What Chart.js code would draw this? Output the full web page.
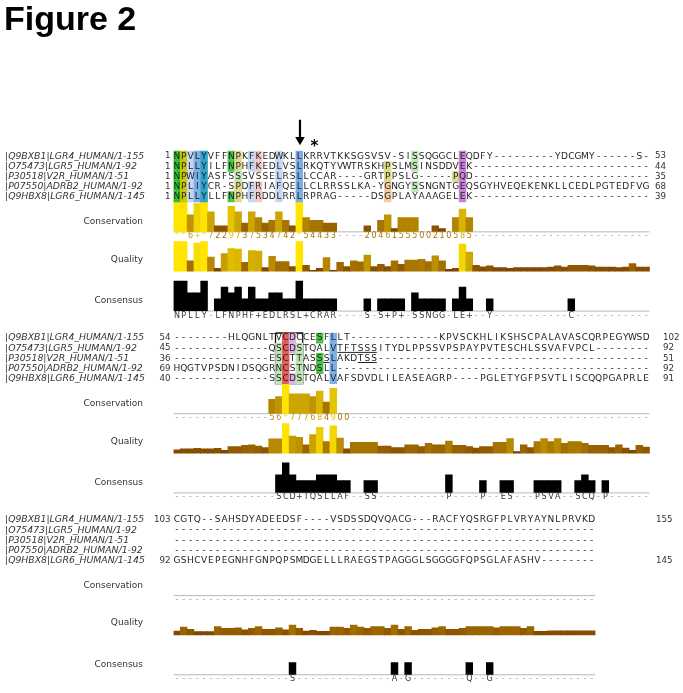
<!DOCTYPE html>
<html>
<head>
<meta charset="utf-8">
<title>Figure 2</title>
<script src="https://cdn.jsdelivr.net/npm/chart.js@4.4.1/dist/chart.umd.min.js"></script>
<style>
  html, body { margin: 0; padding: 0; background: #fff; }
  canvas { display: block; }
</style>
</head>
<body>
<canvas id="figure" width="683" height="693"></canvas>
<script>
// names, same order in every block
const seqNames = ['|Q9BXB1|LGR4_HUMAN/1-155', '|O75473|LGR5_HUMAN/1-92', '|P30518|V2R_HUMAN/1-51',
                  '|P07550|ADRB2_HUMAN/1-92', '|Q9HBX8|LGR6_HUMAN/1-145'];
const trackNames = ['Conservation', 'Quality', 'Consensus'];

// columns per wrapped block
const blockCols = [70, 70, 62];

// aligned sequences (trailing gaps are padded below)
const seqBlock1 = [
  'NPVLYVFFNPKFKEDWKLLKRRVTKKSGSVSV-SISSQGGCLEQDFY---------YDCGMY------S-',
  'NPLLYILFNPHFKEDLVSLRKQTYVWTRSKHPSLMSINSDDVEK',
  'NPWIYASFSSSVSSELRSLLCCAR----GRTPPSLG-----PQD',
  'NPLIYCR-SPDFRIAFQELLCLRRSSLKA-YGNGYSSNGNTGEQSGYHVEQEKENKLLCEDLPGTEDFVG',
  'NPLLYLLFNPHFRDDLRRLRPRAG-----DSGPLAYAAAGELEK'
];
const seqBlock2 = [
  '--------HLQGNLTVCDCCESFLLT-------------KPVSCKHLIKSHSCPALAVASCQRPEGYWSD',
  '--------------QSCDSTQALVTFTSSSITYDLPPSSVPSPAYPVTESCHLSSVAFVPCL',
  '--------------ESCTTASSSLAKDTSS',
  'HQGTVPSDNIDSQGRNCSTNDSLL',
  '--------------SSCDSTQALVAFSDVDLILEASEAGRP----PGLETYGFPSVTLISCQQPGAPRLE'
];
const seqBlock3 = [
  'CGTQ--SAHSDYADEEDSF----VSDSSDQVQACG---RACFYQSRGFPLVRYAYNLPRVKD',
  '',
  '',
  '',
  'GSHCVEPEGNHFGNPQPSMDGELLLRAEGSTPAGGGLSGGGGFQPSGLAFASHV'
];

const startNums1 = ['1', '1', '1', '1', '1'];
const endNums1 = ['53', '44', '35', '68', '39'];
const startNums2 = ['54', '45', '36', '69', '40'];
const endNums2 = ['102', '92', '51', '92', '91'];
const startNums3 = ['103', '', '', '', '92'];
const endNums3 = ['155', '', '', '', '145'];

// conservation row as printed (* = 11, + = 10)
const consBlock1 = '**6+*7229737534742*54433----2046155500210585';
const consBlock2 = '--------------56*777684900';
const consBlock3 = '';

// quality, fraction of track height
const qualBlock1 = [1.0, 1.0, 0.35, 0.95, 1.0, 0.48, 0.1, 0.6, 0.77, 0.75,
  0.3, 0.7, 0.68, 0.12, 0.5, 0.33, 0.33, 0.16, 1.0, 0.2,
  0.03, 0.1, 0.46, 0.03, 0.3, 0.16, 0.35, 0.32, 0.55, 0.16,
  0.23, 0.16, 0.35, 0.23, 0.38, 0.38, 0.4, 0.33, 0.52, 0.35,
  0.06, 0.1, 0.92, 0.65, 0.2, 0.15, 0.18, 0.12, 0.12, 0.1,
  0.12, 0.12, 0.12, 0.12, 0.12, 0.14, 0.18, 0.14, 0.2, 0.2,
  0.2, 0.18, 0.14, 0.14, 0.14, 0.12, 0.14, 0.26, 0.14, 0.14];
const qualBlock2 = [0.11, 0.14, 0.14, 0.16, 0.14, 0.14, 0.16, 0.09, 0.22, 0.22,
  0.26, 0.28, 0.24, 0.19, 0.48, 0.48, 1.0, 0.58, 0.53, 0.28,
  0.63, 0.87, 0.39, 0.92, 0.51, 0.14, 0.36, 0.36, 0.36, 0.36,
  0.24, 0.24, 0.19, 0.19, 0.28, 0.28, 0.22, 0.33, 0.28, 0.28,
  0.41, 0.26, 0.26, 0.22, 0.17, 0.22, 0.22, 0.36, 0.36, 0.49,
  0.05, 0.28, 0.19, 0.39, 0.49, 0.39, 0.49, 0.33, 0.39, 0.39,
  0.33, 0.26, 0.26, 0.26, 0.19, 0.28, 0.17, 0.09, 0.26, 0.2];
const qualBlock3 = [0.13, 0.27, 0.19, 0.11, 0.11, 0.11, 0.28, 0.22, 0.22, 0.24,
  0.17, 0.22, 0.28, 0.19, 0.19, 0.24, 0.17, 0.33, 0.22, 0.13,
  0.16, 0.12, 0.12, 0.27, 0.27, 0.22, 0.33, 0.27, 0.22, 0.28,
  0.28, 0.22, 0.33, 0.19, 0.28, 0.16, 0.19, 0.19, 0.24, 0.28,
  0.19, 0.19, 0.22, 0.28, 0.28, 0.28, 0.28, 0.24, 0.28, 0.28,
  0.28, 0.22, 0.28, 0.12, 0.12, 0.14, 0.14, 0.14, 0.14, 0.14,
  0.14, 0.14];

// consensus: letter row and number of sequences (of 5) sharing it
const consensusText1 = 'NPLLY-LFNPHF+EDLRSL+CRAR----S-S+P+-SSNGG-LE+--Y-----------C-----------';
const consensusLevel1 = [5, 5, 3, 3, 5, 0, 2, 4, 3, 4, 2, 4, 2, 2, 3, 3, 2, 2, 5, 2,
  2, 2, 2, 2, 0, 0, 0, 0, 2, 0, 2, 2, 2, 2, 0, 3, 2, 2, 2, 2,
  0, 2, 4, 2, 0, 0, 2, 0, 0, 0, 0, 0, 0, 0, 0, 0, 0, 0, 2, 0,
  0, 0, 0, 0, 0, 0, 0, 0, 0, 0];
const consensusText2 = '---------------SCD+TQSLLAF--SS----------P----P--ES---PSVA--SCQ-P------';
const consensusLevel2 = [0, 0, 0, 0, 0, 0, 0, 0, 0, 0, 0, 0, 0, 0, 0, 3, 5, 3, 2, 2,
  2, 3, 3, 3, 2, 2, 0, 0, 2, 2, 0, 0, 0, 0, 0, 0, 0, 0, 0, 0,
  3, 0, 0, 0, 0, 2, 0, 0, 2, 2, 0, 0, 0, 2, 2, 2, 2, 0, 0, 2,
  3, 2, 0, 2, 0, 0, 0, 0, 0, 0];
const consensusText3 = '-----------------S--------------A-G--------Q--G---------------';
const consensusLevel3 = [0, 0, 0, 0, 0, 0, 0, 0, 0, 0, 0, 0, 0, 0, 0, 0, 0, 2, 0, 0,
  0, 0, 0, 0, 0, 0, 0, 0, 0, 0, 0, 0, 2, 0, 2, 0, 0, 0, 0, 0,
  0, 0, 0, 2, 0, 0, 2, 0, 0, 0, 0, 0, 0, 0, 0, 0, 0, 0, 0, 0,
  0, 0];

// residue shading: [column, code per sequence]
const shadeBlock1 = [[1, 'GGGGG'], [2, 'YYYYY'], [3, 'bbbbb'], [4, 'BBBBB'], [5, 'CCCCC'],
  [9, 'gg..g'], [10, 'yyhyy'], [12, 'bb.bb'], [13, 'pp.pp'], [16, 'bbbbb'], [19, 'BBBBB'],
  [32, '.yyoo'], [36, 'hh.h.'], [42, '..y..'], [43, 'MMMMM']];
const shadeBlock2 = [[16, '.hhhh'], [17, 'RRRRR'], [18, 'dd..d'], [19, '.hhhh'], [22, 'g.gg.'], [24, 'BBBBB']];
const shadeBlock3 = [];

const shadeColours = {
  G: '#2ec02e', g: '#4cc44c', h: '#c0e6b8', Y: '#c6c800', y: '#dedc8c', o: '#f2cca4',
  B: '#7eaee6', b: '#c4d8f2', C: '#2ea4c8', p: '#f3caca', M: '#c882d8', d: '#dcb2e2', R: '#e45e5e'
};

// layout
const COLW = 6.8;
const X0 = 173.5;
const ROWH = 10.3;
const blockTop = [148, 332.8, 517.6];
const endNumX = [655, 663, 656];
const OFF = { consBase: 81.5, consNum: 86, qualBase: 122, consensusBase: 162, consensusText: 167 };
const TRACKH = { cons: 31, qual: 30, consensus: 30 };

const pad = (s, n) => s.padEnd(n, '-');
const blocks = [
  { seqs: seqBlock1, starts: startNums1, ends: endNums1, cons: consBlock1, qual: qualBlock1,
    ctext: consensusText1, clevel: consensusLevel1, shade: shadeBlock1 },
  { seqs: seqBlock2, starts: startNums2, ends: endNums2, cons: consBlock2, qual: qualBlock2,
    ctext: consensusText2, clevel: consensusLevel2, shade: shadeBlock2 },
  { seqs: seqBlock3, starts: startNums3, ends: endNums3, cons: consBlock3, qual: qualBlock3,
    ctext: consensusText3, clevel: consensusLevel3, shade: shadeBlock3 }
];
blocks.forEach((b, i) => {
  b.cols = blockCols[i];
  b.seqs = b.seqs.map(s => pad(s, b.cols));
  b.cons = pad(b.cons, b.cols);
});

function consValue(ch) {
  if (ch === '*') return 11;
  if (ch === '+') return 10;
  if (ch >= '0' && ch <= '9') return Number(ch);
  return null;
}
function goldColour(v) {
  const r = Math.round(255 * (0.45 + 0.55 * v));
  const g = Math.round(255 * (0.2 + 0.7 * v));
  return `rgb(${r},${g},0)`;
}

const shadeData = [], consData = [], qualData = [], consensusData = [], lineSets = [];
const hLine = (x1, x2, y, colour, width) => ({
  type: 'line', data: [{ x: x1, y }, { x: x2, y }], borderColor: colour, borderWidth: width,
  pointRadius: 0, tension: 0, fill: false
});

blocks.forEach((b, bi) => {
  const top = blockTop[bi];
  b.shade.forEach(([col, codes]) => {
    [...codes].forEach((code, r) => {
      if (code === '.') return;
      shadeData.push({ x: col - 0.5, y: [top + r * ROWH, top + (r + 1) * ROWH], c: shadeColours[code] });
    });
  });
  const cBase = top + OFF.consBase;
  [...b.cons].forEach((ch, i) => {
    const v = consValue(ch);
    if (!v) return;
    consData.push({ x: i + 0.5, y: [cBase, cBase - v / 11 * TRACKH.cons], c: goldColour(v / 11) });
  });
  const qBase = top + OFF.qualBase;
  b.qual.forEach((v, i) => {
    qualData.push({ x: i + 0.5, y: [qBase, qBase - v * TRACKH.qual], c: goldColour(v) });
  });
  const kBase = top + OFF.consensusBase;
  b.clevel.forEach((lv, i) => {
    if (!lv) return;
    consensusData.push({ x: i + 0.5, y: [kBase, kBase - lv / 5 * TRACKH.consensus], c: '#000' });
  });
  lineSets.push(hLine(0, b.cols, cBase + 0.5, '#b8b8b8', 1));
  lineSets.push(hLine(0, b.cols, kBase + 0.5, '#b8b8b8', 1));
});

// underlined residues and box in block 2: [row, first col, last col]
const underlines2 = [[1, 25, 30], [2, 22, 23], [2, 28, 30]];
underlines2.forEach(([r, c1, c2]) => {
  const y = blockTop[1] + r * ROWH + 9.4;
  lineSets.push(hLine(c1 - 1 + 0.1, c2 - 0.1, y, '#222', 1));
});
const boxCols2 = [16, 19];
const bt = blockTop[1], bb = blockTop[1] + 5 * ROWH;
lineSets.push({
  type: 'line',
  data: [{ x: boxCols2[0] - 1, y: bt }, { x: boxCols2[1], y: bt }, { x: boxCols2[1], y: bb },
         { x: boxCols2[0] - 1, y: bb }, { x: boxCols2[0] - 1, y: bt }],
  borderColor: '#111', borderWidth: 1.3, pointRadius: 0, tension: 0, fill: false
});

// arrow over the conserved leucine
const arrowCol = 19;
lineSets.push({
  type: 'line', data: [{ x: arrowCol - 0.4, y: 116 }, { x: arrowCol - 0.4, y: 134 }],
  borderColor: '#000', borderWidth: 2.2, pointRadius: 0, fill: false
});
lineSets.push({
  type: 'line', data: [{ x: arrowCol - 0.4, y: 136.5 }], showLine: false,
  pointStyle: 'triangle', pointRadius: 5.5, pointRotation: 180,
  pointBackgroundColor: '#000', pointBorderColor: '#000', pointBorderWidth: 0
});
const starCol = 21;

const barSet = (data) => ({
  type: 'bar', data, grouped: false, barPercentage: 1, categoryPercentage: 1, borderWidth: 0,
  backgroundColor: ctx => (ctx.raw && ctx.raw.c) || '#000'
});

const textPlugin = {
  id: 'alignmentText',
  afterDatasetsDraw(chart) {
    const { ctx } = chart;
    const xs = chart.scales.x, ys = chart.scales.y;
    const colX = i => xs.getPixelForValue(i + 0.5);
    ctx.save();
    ctx.fillStyle = '#000';
    ctx.font = 'bold 34px "Liberation Sans", Arial, sans-serif';
    ctx.textAlign = 'left';
    ctx.textBaseline = 'alphabetic';
    ctx.fillText('Figure 2', 4, 30);

    ctx.font = 'bold 15px "DejaVu Sans", sans-serif';
    ctx.textAlign = 'center';
    ctx.textBaseline = 'middle';
    ctx.fillText('*', colX(starCol - 1) + 1.5, ys.getPixelForValue(143.5));

    blocks.forEach((b, bi) => {
      const top = blockTop[bi];
      ctx.textBaseline = 'middle';
      b.seqs.forEach((s, r) => {
        const cy = ys.getPixelForValue(top + r * ROWH + ROWH / 2);
        ctx.font = 'italic 9.3px "DejaVu Sans", sans-serif';
        ctx.fillStyle = '#333';
        ctx.textAlign = 'left';
        ctx.fillText(seqNames[r], 5, cy);
        ctx.font = '8.7px "DejaVu Sans", sans-serif';
        ctx.textAlign = 'right';
        ctx.fillText(b.starts[r], X0 - 3, cy);
        ctx.textAlign = 'left';
        ctx.fillText(b.ends[r], endNumX[bi], cy);
        ctx.font = '9px "DejaVu Sans", sans-serif';
        ctx.textAlign = 'center';
        ctx.fillStyle = '#1e1e1e';
        [...s].forEach((ch, i) => ctx.fillText(ch, colX(i), cy));
      });
      ctx.font = '9px "DejaVu Sans", sans-serif';
      ctx.fillStyle = '#333';
      ctx.textAlign = 'right';
      ctx.fillText(trackNames[0], 143, ys.getPixelForValue(top + 72));
      ctx.fillText(trackNames[1], 143, ys.getPixelForValue(top + 110));
      ctx.fillText(trackNames[2], 143, ys.getPixelForValue(top + 152));

      ctx.textAlign = 'center';
      ctx.font = '8px "DejaVu Sans", sans-serif';
      [...b.cons].forEach((ch, i) => {
        const v = consValue(ch);
        ctx.fillStyle = v === null ? '#a0a0a0' : goldColour(Math.max(v, 4) / 11);
        ctx.fillText(ch, colX(i), ys.getPixelForValue(top + OFF.consNum));
      });
      [...b.ctext].forEach((ch, i) => {
        ctx.fillStyle = ch === '-' ? '#a0a0a0' : '#333';
        ctx.fillText(ch, colX(i), ys.getPixelForValue(top + OFF.consensusText));
      });
    });
    ctx.restore();
  }
};

new Chart(document.getElementById('figure'), {
  type: 'bar',
  data: {
    datasets: [barSet(shadeData), barSet(consData), barSet(qualData), barSet(consensusData), ...lineSets]
  },
  options: {
    responsive: false,
    animation: false,
    devicePixelRatio: 1,
    events: [],
    layout: { padding: { left: X0, right: 683 - X0 - 72 * COLW, top: 0, bottom: 0 } },
    scales: {
      x: { type: 'linear', min: 0, max: 72, offset: false, display: false },
      y: { type: 'linear', min: 0, max: 693, reverse: true, display: false }
    },
    plugins: { legend: { display: false }, tooltip: { enabled: false } }
  },
  plugins: [textPlugin]
});
</script>
</body>
</html>
